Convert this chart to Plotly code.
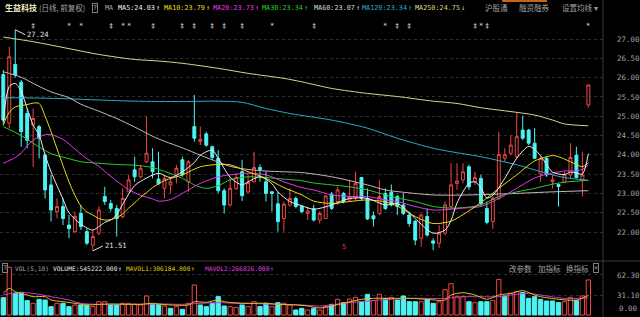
import plotly.graph_objects as go

W, H = 640, 317

# ---------------- data ----------------
candle_idx = list(range(99))
opens = [26.08, 24.82, 26.34, 25.88, 25.07, 24.77, 24.73, 23.99, 23.22, 22.53,
         22.66, 22.18, 22.01, 22.48, 22.01, 21.66, 21.97, 22.92, 22.74, 22.61,
         22.40, 23.04, 23.61, 23.43, 23.82, 23.82, 23.37, 23.13, 23.22, 23.48,
         23.87, 23.30, 24.73, 24.34, 24.54, 24.21, 23.91, 23.07, 22.70, 23.13,
         23.56, 23.04, 23.30, 23.67, 23.30, 23.04, 22.73, 22.35, 22.70, 22.87,
         22.66, 22.48, 22.60, 22.31, 22.35, 22.98, 22.79, 23.00, 22.83, 22.87,
         23.41, 22.87, 22.42, 22.48, 23.00, 23.03, 22.92, 22.70, 22.44, 22.28,
         21.84, 22.40, 21.77, 21.71, 21.97, 22.66, 23.26, 23.35, 23.69, 23.30,
         23.39, 22.61, 22.27, 22.87, 23.91, 24.04, 23.95, 24.64, 24.64, 24.30,
         23.50, 23.91, 23.30, 23.23, 23.29, 23.48, 23.99, 23.35, 25.29]
highs = [26.20, 26.80, 27.24, 25.94, 25.20, 25.20, 24.77, 24.04, 23.48, 22.87,
         22.87, 22.44, 22.53, 22.70, 22.09, 22.05, 22.66, 23.17, 22.83, 22.70,
         23.13, 23.48, 23.95, 23.74, 24.99, 24.17, 24.08, 23.48, 23.43, 23.74,
         23.95, 23.86, 25.55, 24.73, 24.60, 24.24, 24.12, 23.13, 23.43, 23.52,
         23.87, 23.48, 24.08, 23.75, 23.56, 23.06, 23.04, 22.79, 23.13, 22.92,
         22.70, 22.66, 22.70, 22.53, 22.96, 23.04, 23.17, 23.04, 23.35, 23.56,
         23.43, 23.13, 22.53, 23.35, 23.13, 23.23, 22.96, 23.00, 22.53, 22.31,
         22.48, 22.61, 21.84, 22.18, 22.79, 23.78, 23.78, 23.78, 23.74, 23.56,
         23.48, 22.79, 22.92, 24.60, 24.17, 24.51, 25.10, 25.01, 24.67, 24.69,
         23.95, 23.95, 23.48, 23.26, 23.56, 24.30, 24.21, 24.08, 25.81]
lows = [24.77, 24.69, 26.00, 24.21, 24.17, 23.69, 23.91, 22.87, 22.27, 22.35,
        22.18, 21.84, 21.97, 22.05, 21.66, 21.51, 21.92, 22.70, 22.53, 21.88,
        22.35, 23.04, 23.30, 23.39, 23.78, 23.39, 23.22, 22.87, 23.00, 23.26,
        23.43, 23.04, 24.34, 24.25, 24.21, 23.87, 23.00, 22.48, 22.66, 23.09,
        22.80, 23.00, 23.30, 23.30, 22.79, 22.53, 22.01, 22.01, 22.66, 22.61,
        22.48, 22.31, 22.27, 22.22, 22.35, 22.57, 22.70, 22.74, 22.79, 22.83,
        22.83, 22.31, 22.14, 22.44, 22.57, 22.66, 22.44, 22.44, 22.14, 21.66,
        21.62, 21.88, 21.53, 21.59, 21.92, 22.61, 23.09, 23.26, 23.09, 23.22,
        22.66, 22.20, 22.08, 22.83, 23.82, 23.99, 23.91, 24.38, 24.25, 23.89,
        23.30, 23.43, 23.13, 22.66, 23.29, 23.39, 23.39, 22.92, 25.22]
closes = [24.90, 26.54, 26.07, 24.60, 24.38, 24.94, 24.43, 23.09, 22.57, 22.66,
          22.35, 22.09, 22.40, 22.14, 21.71, 21.88, 22.57, 22.79, 22.61, 22.35,
          22.87, 23.35, 23.43, 23.65, 24.04, 23.56, 23.25, 23.39, 23.30, 23.65,
          23.48, 23.82, 24.43, 24.40, 24.25, 23.93, 23.07, 22.70, 23.13, 23.41,
          22.94, 23.28, 23.67, 23.62, 23.00, 23.00, 22.27, 22.72, 22.87, 22.66,
          22.53, 22.54, 22.31, 22.48, 22.93, 22.61, 23.09, 22.79, 22.92, 23.26,
          22.87, 22.34, 22.34, 22.92, 22.61, 22.70, 22.66, 22.48, 22.22, 21.79,
          22.44, 21.92, 21.71, 21.97, 22.70, 23.22, 23.32, 23.56, 23.17, 23.41,
          22.74, 22.25, 22.87, 24.01, 24.00, 24.25, 24.47, 24.43, 24.30, 23.91,
          23.90, 23.48, 23.35, 23.18, 23.48, 23.93, 23.41, 23.48, 25.81]
# volume in 10k lots
volumes = [27.0, 74.2, 33.7, 35.3, 22.3, 18.2, 24.4, 23.3, 13.0, 18.2,
           18.2, 13.0, 15.6, 15.6, 15.6, 13.0, 20.7, 20.7, 15.6, 15.6,
           18.2, 18.2, 17.1, 15.6, 29.6, 16.6, 16.6, 14.0, 10.4, 13.0,
           8.8, 18.2, 46.7, 15.6, 13.0, 18.2, 28.5, 14.0, 13.0, 11.9,
           15.6, 13.0, 20.7, 13.0, 18.2, 13.0, 19.2, 18.2, 15.6, 7.8,
           10.4, 7.8, 10.4, 7.8, 13.0, 16.6, 24.4, 19.2, 24.9, 27.5,
           20.7, 32.2, 22.3, 32.2, 25.9, 27.5, 23.3, 29.6, 20.7, 20.7,
           20.7, 24.4, 18.2, 20.7, 39.4, 48.7, 28.5, 28.5, 20.7, 19.2,
           20.7, 20.7, 22.3, 55.4, 29.6, 33.7, 36.3, 35.0, 25.9, 28.5,
           24.4, 21.8, 21.8, 19.2, 20.7, 27.5, 22.3, 29.6, 54.52]

# moving averages (candle index, price)
ma5_idx = [0, 1, 2, 3, 4, 5, 6, 7, 8, 10, 11, 13, 15, 16, 17, 18, 19, 20, 22, 24, 26, 28,
           30, 32, 33, 35, 36, 38, 40, 41, 43, 45, 46, 48, 50, 52, 55, 58, 61, 64, 66,
           68, 69, 72, 74, 75, 76, 78, 79, 80, 81, 82, 84, 86, 88, 89, 90, 91, 92, 94,
           95, 96, 97, 98]
ma5_val = [24.86, 25.77, 25.85, 25.64, 25.20, 24.77, 24.51, 23.99, 23.56, 22.85, 22.50,
           22.20, 22.05, 22.14, 22.25, 22.31, 22.45, 22.72, 23.20, 23.40, 23.52, 23.41,
           23.56, 23.80, 23.99, 24.12, 23.91, 23.42, 23.22, 23.30, 23.43, 23.25, 23.04,
           22.79, 22.68, 22.59, 22.70, 22.87, 22.87, 22.70, 22.74, 22.50, 22.35, 21.97,
           22.05, 22.30, 22.75, 23.26, 23.30, 23.15, 22.88, 22.95, 23.39, 23.91, 24.22,
           24.14, 23.97, 23.75, 23.55, 23.49, 23.55, 23.53, 23.50, 24.03]
ma10_idx = [0, 1, 2, 4, 5, 6, 7, 8, 9, 10, 11, 12, 13, 14, 15, 16, 17, 18, 19, 20, 21, 22,
            23, 24, 25, 27, 30, 33, 36, 38, 41, 44, 47, 50, 52, 55, 58, 61, 64, 66, 69,
            72, 75, 77, 80, 83, 86, 89, 92, 93, 94, 96, 97, 98]
ma10_val = [24.77, 25.10, 25.24, 25.30, 25.34, 25.33, 25.00, 24.60, 24.15, 23.72, 23.30,
            22.95, 22.67, 22.52, 22.44, 22.35, 22.31, 22.32, 22.37, 22.47, 22.62, 22.75,
            22.90, 23.02, 23.15, 23.33, 23.48, 23.69, 23.75, 23.74, 23.56, 23.39, 23.15,
            22.96, 22.80, 22.74, 22.79, 22.83, 22.78, 22.67, 22.40, 22.22, 22.28, 22.45,
            22.76, 23.13, 23.48, 23.84, 23.98, 23.95, 23.89, 23.75, 23.69, 23.79]
ma20_idx = [0, 2, 3, 5, 7, 8, 10, 12, 14, 16, 18, 21, 23, 25, 26, 28, 30, 33, 36, 38, 41,
            44, 47, 50, 52, 55, 58, 61, 64, 66, 69, 72, 75, 77, 80, 83, 86, 89, 92, 94,
            96, 97, 98]
ma20_val = [23.78, 23.93, 24.05, 24.38, 24.52, 24.52, 24.40, 24.15, 23.90, 23.70, 23.44,
            23.10, 22.95, 22.86, 22.80, 22.84, 23.00, 23.26, 23.43, 23.48, 23.52, 23.48,
            23.30, 23.15, 23.09, 22.96, 22.92, 22.92, 22.83, 22.79, 22.66, 22.57, 22.59,
            22.62, 22.66, 22.87, 23.13, 23.40, 23.53, 23.58, 23.59, 23.62, 23.73]
ma30_idx = [0, 3, 5, 8, 11, 13, 16, 19, 22, 25, 27, 30, 32, 34, 36, 38, 41, 44, 47, 50,
            52, 55, 58, 61, 64, 66, 69, 72, 75, 77, 80, 83, 86, 89, 92, 94, 98]
ma30_val = [24.73, 24.50, 24.30, 24.03, 23.90, 23.82, 23.78, 23.75, 23.73, 23.67, 23.57,
            23.39, 23.22, 23.13, 23.20, 23.35, 23.43, 23.41, 23.37, 23.33, 23.27, 23.22,
            23.17, 23.09, 22.96, 22.88, 22.79, 22.66, 22.62, 22.63, 22.70, 22.92, 23.04,
            23.13, 23.24, 23.29, 23.34]
ma60_idx = [0, 3, 5, 8, 11, 13, 16, 19, 22, 25, 27, 30, 33, 36, 38, 41, 44, 47, 50, 55,
            61, 64, 67, 72, 78, 86, 92, 98]
ma60_val = [26.15, 26.01, 25.85, 25.63, 25.48, 25.31, 25.13, 24.94, 24.72, 24.48, 24.35,
            24.18, 23.99, 23.81, 23.70, 23.62, 23.58, 23.56, 23.54, 23.43, 23.22, 23.09,
            23.03, 22.96, 22.96, 23.00, 23.04, 23.07]
ma120_idx = [0, 6, 11, 16, 22, 30, 36, 40, 44, 48, 50, 55, 61, 66, 72, 75, 80, 86, 89, 92,
             94, 98]
ma120_val = [25.48, 25.47, 25.45, 25.42, 25.39, 25.38, 25.39, 25.36, 25.20, 25.07, 25.02,
             24.90, 24.69, 24.43, 24.17, 24.08, 23.95, 23.74, 23.61, 23.48, 23.41, 23.34]
ma250_idx = [0, 5, 11, 16, 22, 26, 30, 36, 41, 47, 50, 55, 61, 66, 72, 76, 80, 86, 89, 92,
             94, 98]
ma250_val = [27.05, 26.93, 26.75, 26.60, 26.47, 26.43, 26.37, 26.24, 26.11, 25.98, 25.89,
             25.72, 25.59, 25.51, 25.39, 25.33, 25.22, 25.10, 25.03, 24.90, 24.80, 24.75]

mavol1_idx = [0, 1, 2, 4, 5, 7, 8, 10, 12, 14, 16, 18, 21, 23, 25, 26, 28, 31, 32, 34, 36,
              37, 40, 42, 44, 46, 49, 51, 53, 57, 60, 62, 65, 68, 71, 74, 75, 77, 79, 81,
              83, 85, 87, 89, 90, 93, 96, 98]
mavol1_val = [33.7, 41.5, 36.3, 31.1, 28.5, 28.5, 23.3, 20.7, 18.2, 15.6, 16.6, 17.1, 16.6,
              16.6, 18.2, 17.1, 15.6, 15.6, 20.7, 19.7, 23.3, 20.7, 18.2, 18.2, 18.2, 16.6,
              15.6, 14.0, 11.0, 18.2, 24.4, 25.9, 25.9, 25.9, 24.4, 23.3, 31.1, 34.7, 31.1,
              24.4, 31.1, 33.7, 37.9, 31.1, 28.5, 24.4, 23.3, 30.62]
mavol2_idx = [0, 2, 5, 8, 11, 13, 16, 19, 22, 25, 27, 30, 33, 36, 39, 41, 44, 47, 50, 53,
              57, 63, 68, 74, 77, 79, 83, 85, 88, 90, 94, 98]
mavol2_val = [31.1, 34.7, 33.7, 28.5, 23.3, 18.2, 16.6, 16.6, 16.6, 17.1, 17.1, 16.6, 18.2,
              19.2, 18.2, 18.2, 17.1, 16.6, 15.6, 14.0, 18.2, 23.3, 25.9, 25.9, 28.5, 28.5,
              28.5, 31.1, 33.7, 31.1, 25.9, 26.60]

price_ticks = [22.0, 22.5, 23.0, 23.5, 24.0, 24.5, 25.0, 25.5, 26.0, 26.5, 27.0]
vol_ticks = [31.1, 62.3]
volume_last = 545222.000
mavol1_last = 306184.800
mavol2_last = 266026.000

# info markers along the top (candle index, glyph)
info_idx = [5, 11, 13, 18, 20, 21, 25, 30, 32, 35, 37, 40, 45, 52, 64, 66, 68, 79, 80, 81, 98]
info_sym = ["‡", "*", "*", "‡", "*", "*", "‡", "‡", "‡", "‡", "‡", "‡", "*", "‡", "*", "‡",
            "‡", "‡", "*", "‡", "*"]
event_idx = [57]
event_txt = ["5"]

# ---------------- style ----------------
RED = "#f04646"
CYAN = "#4ef2f2"
GRAY = "#a0a0a0"
MONO = "DejaVu Sans Mono"
CJK = "Noto Sans CJK SC"
C_MA5, C_MA10, C_MA20, C_MA30 = "#eeeeee", "#e6dc10", "#e636e6", "#2cc82c"
C_MA60, C_MA120, C_MA250 = "#c8b8b8", "#2ea8cc", "#dcd48c"

# pixel geometry
PLOT_R = 603
STEP = 5.97
X0 = -3.3 / STEP
X1 = X0 + PLOT_R / STEP
TOP, SEP = 28, 261
PPU = 38.6           # px per price unit, 27.00 at y=39
P_HI = 27 + (39 - TOP) / PPU
P_LO = 27 - (SEP - 39) / PPU
VPX = 1.556          # volume units per px, 0 at y=315
V_LO = -(H - 315) * VPX
V_HI = (315 - (SEP + 1)) * VPX

fig = go.Figure()
fig.add_trace(go.Candlestick(
    x=candle_idx, open=opens, high=highs, low=lows, close=closes,
    increasing=dict(line=dict(color=RED, width=1), fillcolor="#000000"),
    decreasing=dict(line=dict(color=CYAN, width=1), fillcolor=CYAN),
    whiskerwidth=0, hoverinfo="skip", xaxis="x", yaxis="y"))

for ix, vals, col in [(ma250_idx, ma250_val, C_MA250), (ma120_idx, ma120_val, C_MA120),
                      (ma60_idx, ma60_val, C_MA60), (ma30_idx, ma30_val, C_MA30),
                      (ma20_idx, ma20_val, C_MA20), (ma10_idx, ma10_val, C_MA10),
                      (ma5_idx, ma5_val, C_MA5)]:
    fig.add_trace(go.Scatter(x=ix, y=vals, mode="lines",
                             line=dict(color=col, width=1, shape="spline", smoothing=0.8),
                             hoverinfo="skip", xaxis="x", yaxis="y"))

up = [closes[0] >= opens[0]] + [closes[i] >= closes[i - 1] for i in range(1, len(closes))]
fig.add_trace(go.Bar(
    x=candle_idx, y=volumes, width=0.72,
    marker=dict(color=["#000000" if u else CYAN for u in up],
                line=dict(color=[RED if u else CYAN for u in up], width=1)),
    hoverinfo="skip", xaxis="x2", yaxis="y2"))
fig.add_trace(go.Scatter(x=mavol2_idx, y=mavol2_val, mode="lines",
                         line=dict(color="#d830d8", width=1, shape="spline", smoothing=0.8),
                         hoverinfo="skip", xaxis="x2", yaxis="y2"))
fig.add_trace(go.Scatter(x=mavol1_idx, y=mavol1_val, mode="lines",
                         line=dict(color="#d8c810", width=1, shape="spline", smoothing=0.8),
                         hoverinfo="skip", xaxis="x2", yaxis="y2"))

ann = []


def txt(x_px, y_px, text, color, size=6.8, family=MONO, **kw):
    ann.append(dict(x=x_px / W, y=1 - y_px / H, xref="paper", yref="paper", text=text,
                    showarrow=False, xanchor="left", yanchor="middle",
                    font=dict(family=family, size=size, color=color), **kw))


CW_HEAD = 0.602 * 6.8   # mono char width in the header
CW_VOL = 0.602 * 6.3

# header row
txt(3, 8, "<b>生益科技</b>", "#f2f0c8", size=8, family=CJK)
txt(37, 8, "(日线, 前复权)", GRAY, size=7.5, family=CJK)
txt(92, 8, "?", GRAY, bordercolor="#808080", borderwidth=1, borderpad=0)
txt(103, 8, "MA", GRAY)
ma_heads = [("MA5", ma5_val, C_MA5, 116, "↑"), ("MA10", ma10_val, C_MA10, 162, "↑"),
            ("MA20", ma20_val, C_MA20, 211, "↑"), ("MA30", ma30_val, C_MA30, 260, "↑"),
            ("MA60", ma60_val, "#d8d8d8", 312, "↑"), ("MA120", ma120_val, C_MA120, 360, "↑"),
            ("MA250", ma250_val, C_MA250, 413, "↓")]
for name, vals, col, xp, arr in ma_heads:
    s = f"{name}:{vals[-1]:.2f}"
    txt(xp, 8, s, col)
    txt(xp + len(s) * CW_HEAD + 1, 8, arr, col, size=7)
txt(483, 8, "沪股通", GRAY, size=7.5, family=CJK)
txt(517, 8, "融资融券", GRAY, size=7.5, family=CJK)
txt(560, 8, "设置均线 ▾", GRAY, size=7.5, family=CJK)

# volume header
txt(2, 268, "?", GRAY, bordercolor="#808080", borderwidth=1, borderpad=0)
txt(13, 268, "VOL(5,10)", GRAY, size=6.3)
vol_heads = [(f"VOLUME:{volume_last:.3f}", "#e8e8e8", 51),
             (f"MAVOL1:{mavol1_last:.3f}", "#e0d000", 124),
             (f"MAVOL2:{mavol2_last:.3f}", "#e040e0", 203)]
for s, col, xp in vol_heads:
    txt(xp, 268, s, col, size=6.3)
    txt(xp + len(s) * CW_VOL + 1, 268, "↑", col, size=6.3)
txt(507, 268, "改参数", GRAY, size=7.5, family=CJK)
txt(536, 268, "加指标", GRAY, size=7.5, family=CJK)
txt(564, 268, "换指标", GRAY, size=7.5, family=CJK)
txt(593, 268, "×", GRAY, bordercolor="#808080", borderwidth=1, borderpad=0)

# bottom volume label (kept inside the window)
ann.append(dict(x=(PLOT_R + 14) / W, y=0, xref="paper", yref="y2", text="0.00",
                showarrow=False, xanchor="left", yanchor="bottom",
                font=dict(family=MONO, size=7.5, color=GRAY)))

# info markers
for i, s in zip(info_idx, info_sym):
    ann.append(dict(x=i, y=1 - 20 / H, xref="x", yref="paper", text=s, showarrow=False,
                    font=dict(family=MONO, size=7, color="#e0e0e0")))
for i, s in zip(event_idx, event_txt):
    ann.append(dict(x=i, y=1 - 253 / H, xref="x", yref="paper", text=s, showarrow=False,
                    font=dict(family=MONO, size=7, color="#ff3030")))

# highest / lowest labels
hi_i = max(candle_idx, key=lambda k: highs[k])
lo_i = min(candle_idx, key=lambda k: lows[k])
ann.append(dict(x=hi_i, y=highs[hi_i], xref="x", yref="y", text=f"{highs[hi_i]:.2f}",
                showarrow=True, arrowhead=0, arrowwidth=1, arrowcolor="#e0e0e0",
                ax=10, ay=5, xanchor="left", font=dict(family=MONO, size=7.2, color="#e0e0e0")))
ann.append(dict(x=lo_i, y=lows[lo_i], xref="x", yref="y", text=f"{lows[lo_i]:.2f}",
                showarrow=True, arrowhead=0, arrowwidth=1, arrowcolor="#e0e0e0",
                ax=10, ay=-5, xanchor="left", font=dict(family=MONO, size=7.2, color="#e0e0e0")))

shapes = [
    dict(type="line", xref="paper", yref="paper", x0=PLOT_R / W, x1=PLOT_R / W, y0=0, y1=1,
         line=dict(color="#3a3a3a", width=1)),
    dict(type="line", xref="paper", yref="paper", x0=0, x1=1, y0=1 - SEP / H, y1=1 - SEP / H,
         line=dict(color="#3a3a3a", width=1)),
    dict(type="rect", xref="paper", yref="paper", x0=502 / W, x1=547 / W, y0=1 - 2 / H, y1=1,
         line=dict(width=0), fillcolor="#c86414"),
]

axis_common = dict(showline=False, zeroline=False, ticks="", fixedrange=True)
fig.update_layout(
    width=W, height=H, margin=dict(l=0, r=0, t=0, b=0),
    paper_bgcolor="#000000", plot_bgcolor="#000000", showlegend=False,
    xaxis=dict(domain=[0, PLOT_R / W], range=[X0, X1], visible=False,
               rangeslider=dict(visible=False), **axis_common),
    yaxis=dict(domain=[(H - SEP) / H, (H - TOP) / H], range=[P_LO, P_HI], side="right",
               tickvals=price_ticks, ticktext=[f"{v:.2f}" for v in price_ticks],
               showgrid=True, gridcolor="#2e2e2e", griddash="dot", gridwidth=1,
               tickfont=dict(family=MONO, size=7.5, color=GRAY), ticklabelstandoff=13,
               **axis_common),
    xaxis2=dict(domain=[0, PLOT_R / W], range=[X0, X1], visible=False, anchor="y2",
                matches="x", **axis_common),
    yaxis2=dict(domain=[0, (H - SEP - 1) / H], range=[V_LO, V_HI], side="right", anchor="x2",
                tickvals=vol_ticks, ticktext=[f"{v:.2f}" for v in vol_ticks],
                showgrid=True, gridcolor="#2e2e2e", griddash="dot", gridwidth=1,
                tickfont=dict(family=MONO, size=7.5, color=GRAY), ticklabelstandoff=13,
                **axis_common),
    annotations=ann, shapes=shapes, bargap=0.3,
)

fig.write_html("out.html")
